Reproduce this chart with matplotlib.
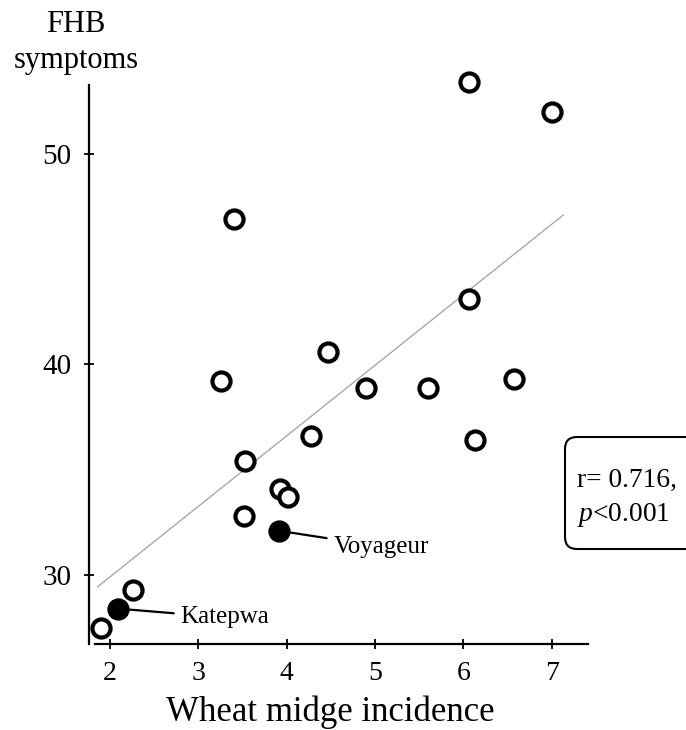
import matplotlib
matplotlib.use("Agg")
import matplotlib.pyplot as plt
import matplotlib.patches as mpatches
from matplotlib.transforms import IdentityTransform

plt.rcParams['font.family'] = 'Liberation Serif'
plt.rcParams['mathtext.fontset'] = 'custom'
plt.rcParams['mathtext.rm'] = 'Liberation Serif'
plt.rcParams['mathtext.it'] = 'Liberation Serif:italic'

# cultivars (open circles): wheat midge incidence vs FHB symptoms
midge = [3.40, 6.06, 7.00, 4.47, 3.26, 4.28, 6.06, 4.90, 5.60, 6.57,
         6.13, 3.53, 3.92, 4.02, 3.52, 2.26, 1.90]
fhb = [46.9, 53.4, 52.0, 40.6, 39.2, 36.6, 43.1, 38.9, 38.9, 39.3,
       36.4, 35.4, 34.1, 33.7, 32.8, 29.3, 27.5]

# highlighted cultivars (filled)
named = ['Voyageur', 'Katepwa']
named_midge = [3.91, 2.09]
named_fhb = [32.1, 28.4]

# regression line end points
fit_x = [1.86, 7.13]
fit_y = [29.44, 47.10]

fig = plt.figure(figsize=(6.86, 7.30), dpi=100)
ax = fig.add_axes([0.1297, 0.1178, 0.7279, 0.7658])

ax.plot(fit_x, fit_y, color='#a0a0a0', linewidth=0.9, zorder=1)
ax.scatter(midge, fhb, s=170, facecolors='white', edgecolors='black',
           linewidths=3.0, zorder=3, clip_on=False)
ax.scatter(named_midge, named_fhb, s=170, facecolors='black', edgecolors='black',
           linewidths=3.0, zorder=3, clip_on=False)

# labels for the filled points
offsets = [(0.62, -0.75), (0.71, -0.42)]
for name, x, y, (dx, dy) in zip(named, named_midge, named_fhb, offsets):
    ax.annotate(name, xy=(x, y), xytext=(x + dx, y + dy), fontsize=18,
                va='center', ha='left',
                arrowprops=dict(arrowstyle='-', color='black', lw=1.6,
                                shrinkA=3, shrinkB=0))

ax.set_xlim(1.762, 7.414)
ax.set_ylim(26.72, 53.28)
ax.set_xticks([2, 3, 4, 5, 6, 7])
ax.set_yticks([30, 40, 50])

for side in ['top', 'right']:
    ax.spines[side].set_visible(False)
for side in ['left', 'bottom']:
    ax.spines[side].set_linewidth(1.6)
ax.spines['bottom'].set_bounds(1.83, 7.414)

ax.tick_params(axis='both', direction='inout', length=7, width=1.3)
ax.tick_params(axis='x', pad=9, labelsize=20)
ax.tick_params(axis='y', pad=9, labelsize=21)

ax.set_xlabel('Wheat midge incidence', fontsize=25)
ax.xaxis.set_label_coords(0.483, -0.093)
fig.text(76 / 686, 1 - 32 / 730, 'FHB', fontsize=22, ha='center', va='baseline')
fig.text(76 / 686, 1 - 68 / 730, 'symptoms', fontsize=22, ha='center', va='baseline')

# stats box, cut by the right edge
box = mpatches.FancyBboxPatch((565, 730 - 549), 140, 112,
                              boxstyle='round,pad=0,rounding_size=12',
                              transform=IdentityTransform(),
                              facecolor='white', edgecolor='black', linewidth=1.5)
fig.add_artist(box)
fig.text(577 / 686, 1 - 487 / 730, 'r= 0.716,', fontsize=19.8, va='baseline')
fig.text(577 / 686, 1 - 521 / 730, r'$\it{p}$<0.001', fontsize=19.8, va='baseline')

fig.savefig('out.png', dpi=100)
